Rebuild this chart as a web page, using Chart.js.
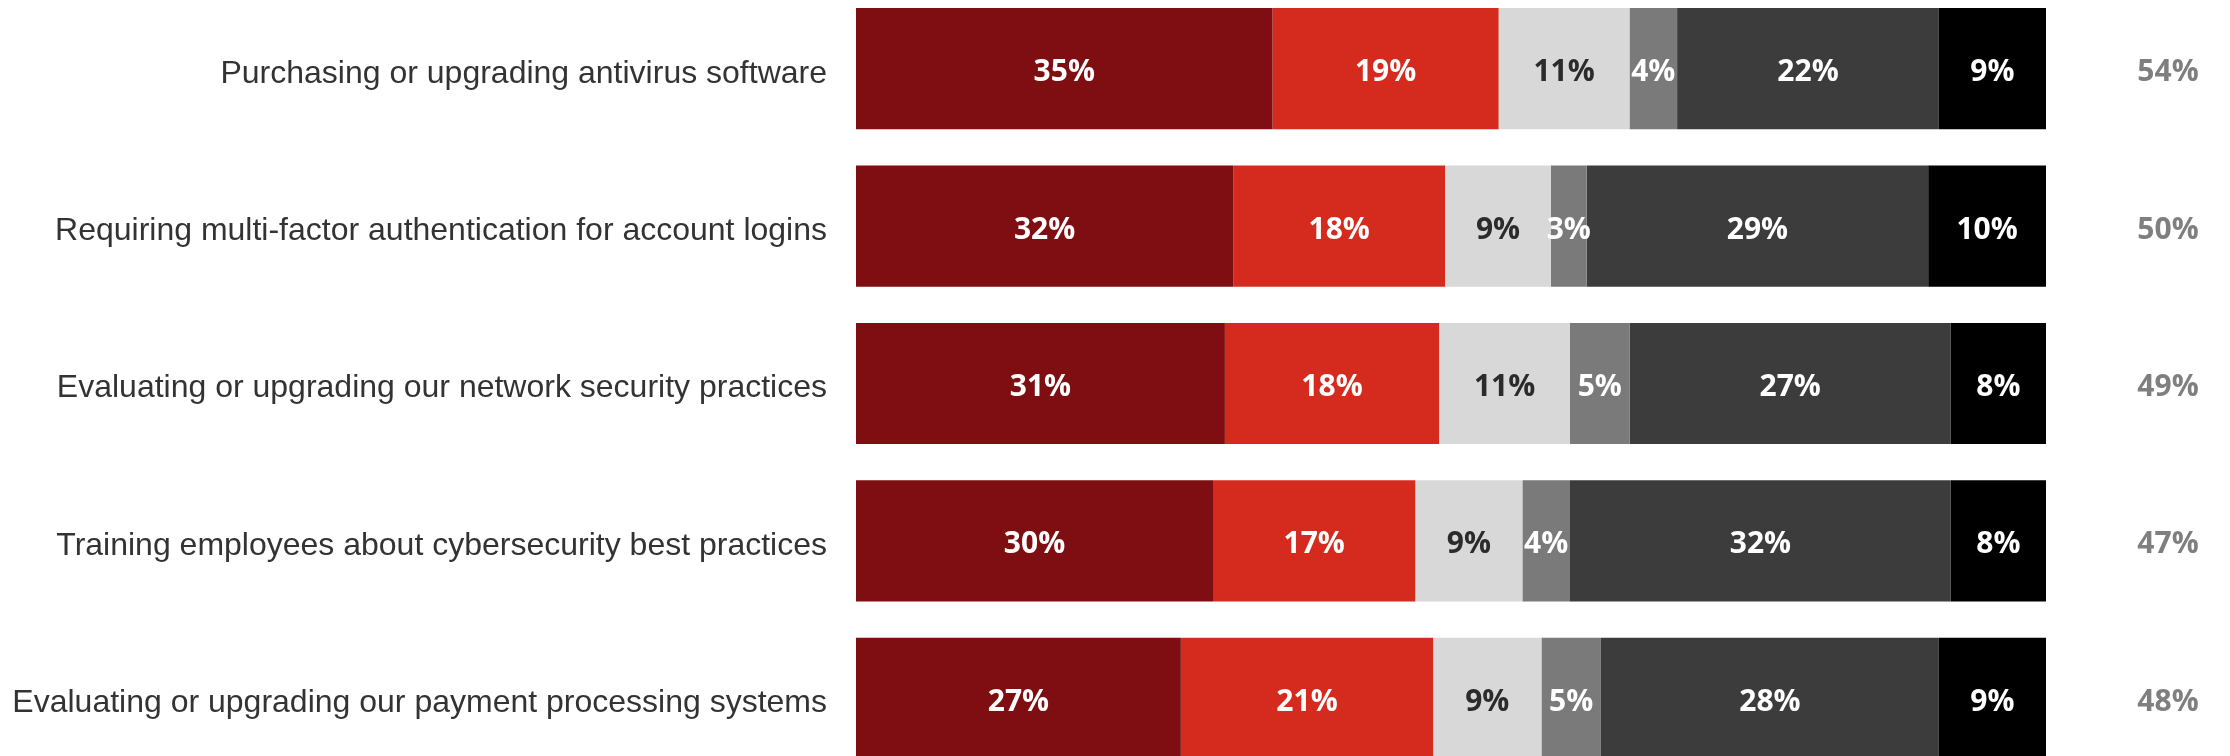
<!DOCTYPE html>
<html>
<head>
<meta charset="utf-8">
<script src="https://cdn.jsdelivr.net/npm/chart.js@4.4.1/dist/chart.umd.min.js"></script>
<style>
  html, body { margin: 0; padding: 0; background: #fff; overflow: hidden; }
  #wrap { position: absolute; left: 0; top: -10px; width: 2230px; height: 787px; }
</style>
</head>
<body>
<div id="wrap"><canvas id="chart"></canvas></div>
<script>
const categories = [
  'Purchasing or upgrading antivirus software',
  'Requiring multi-factor authentication for account logins',
  'Evaluating or upgrading our network security practices',
  'Training employees about cybersecurity best practices',
  'Evaluating or upgrading our payment processing systems'
];

// segment shares, left to right
const seg1 = [35, 31.7, 31, 30, 27.3];
const seg2 = [19, 17.8, 18, 17, 21.2];
const seg3 = [11, 8.9, 11, 9, 9.1];
const seg4 = [4, 3.0, 5, 4, 5.0];
const seg5 = [22, 28.7, 27, 32, 28.4];
const seg6 = [9, 9.9, 8, 8, 9.0];

// net figures shown at the right
const totals = [54, 50, 49, 47, 48];

const segColors = ['#7e0e11', '#d52b1e', '#d8d8d8', '#7a7a7a', '#3c3c3c', '#000000'];
const textColors = ['#ffffff', '#ffffff', '#2b2b2b', '#ffffff', '#ffffff', '#ffffff'];

const series = [seg1, seg2, seg3, seg4, seg5, seg6];

// labels inside the bars + totals on the right
const labelPlugin = {
  id: 'labels',
  afterDatasetsDraw(chart) {
    const ctx = chart.ctx;
    ctx.save();
    ctx.font = 'bold 30px "Open Sans"';
    ctx.textAlign = 'center';
    ctx.textBaseline = 'middle';
    chart.data.datasets.forEach((ds, di) => {
      const meta = chart.getDatasetMeta(di);
      meta.data.forEach((bar, i) => {
        const p = bar.getCenterPoint();
        ctx.fillStyle = textColors[di];
        ctx.fillText(Math.round(ds.data[i]) + '%', p.x, p.y + 4);
      });
    });
    const y = chart.scales.y;
    ctx.fillStyle = '#7f7f7f';
    totals.forEach((t, i) => {
      ctx.fillText(t + '%', 2168, y.getPixelForValue(i) + 4);
    });
    ctx.restore();
  }
};

new Chart(document.getElementById('chart'), {
  type: 'bar',
  data: {
    labels: categories,
    datasets: series.map((d, i) => ({
      data: d,
      backgroundColor: segColors[i],
      borderWidth: 0,
      barPercentage: 1,
      categoryPercentage: 0.77
    }))
  },
  options: {
    indexAxis: 'y',
    responsive: true,
    maintainAspectRatio: false,
    animation: false,
    layout: { padding: { left: 0, right: 184, top: 0, bottom: 0 } },
    plugins: {
      legend: { display: false },
      tooltip: { enabled: false }
    },
    scales: {
      x: { stacked: true, min: 0, max: 100, display: false },
      y: {
        stacked: true,
        border: { display: false },
        grid: { display: false, drawTicks: false },
        afterFit: s => { s.width = 856; s.paddingTop = 0; s.paddingBottom = 0; },
        ticks: {
          padding: 29,
          labelOffset: 5,
          color: '#333333',
          font: { family: '"Liberation Sans", Arial', size: 32 }
        }
      }
    }
  },
  plugins: [labelPlugin]
});
</script>
</body>
</html>
